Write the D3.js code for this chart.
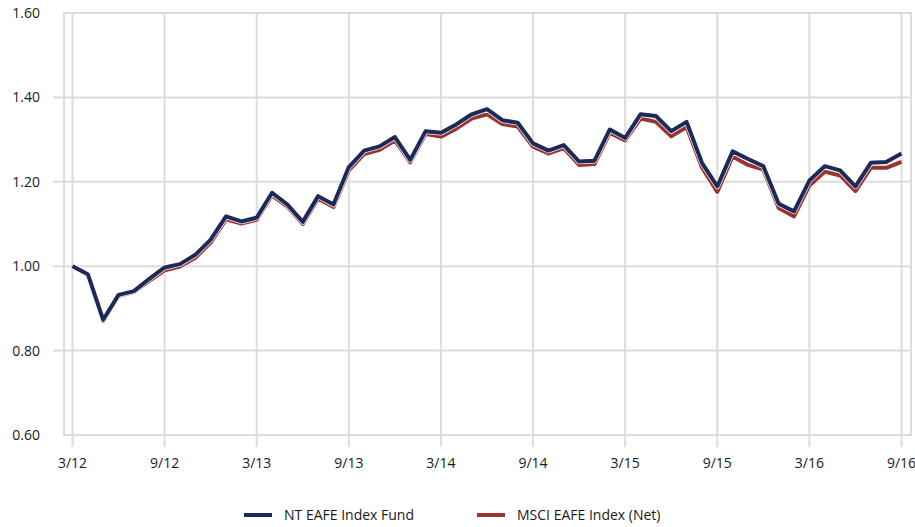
<!DOCTYPE html>
<html><head><meta charset="utf-8">
<script src="https://cdn.jsdelivr.net/npm/d3@7"></script>
<style>body{margin:0;background:#fff;}svg{display:block;font-family:"Open Sans","Noto Sans",sans-serif;}</style>
</head><body>
<svg id="c" width="915" height="527"></svg>
<script>
const tickLabels = ["3/12","9/12","3/13","9/13","3/14","9/14","3/15","9/15","3/16","9/16"];
const yTicks = [0.60,0.80,1.00,1.20,1.40,1.60];
const seriesNames = ["NT EAFE Index Fund","MSCI EAFE Index (Net)"];
const fund = [1.000,0.981,0.873,0.932,0.941,0.970,0.997,1.005,1.027,1.063,1.118,1.106,1.115,1.174,1.146,1.105,1.166,1.146,1.235,1.274,1.284,1.306,1.252,1.320,1.316,1.336,1.360,1.372,1.346,1.340,1.291,1.274,1.287,1.248,1.250,1.324,1.304,1.360,1.356,1.320,1.342,1.245,1.189,1.272,1.254,1.237,1.148,1.130,1.203,1.237,1.227,1.189,1.245,1.247,1.267];
const msci = [1.000,0.979,0.870,0.930,0.939,0.965,0.990,0.999,1.020,1.056,1.111,1.101,1.110,1.168,1.141,1.100,1.160,1.140,1.227,1.266,1.276,1.298,1.246,1.313,1.307,1.326,1.350,1.360,1.337,1.331,1.283,1.267,1.280,1.240,1.242,1.316,1.298,1.350,1.342,1.308,1.330,1.234,1.176,1.260,1.240,1.229,1.138,1.118,1.191,1.224,1.215,1.178,1.233,1.233,1.247];

const svg = d3.select("#c");
const x = d3.scaleLinear().domain([0, fund.length-1]).range([72.5, 901.5]);
const y = d3.scaleLinear().domain([0.6,1.6]).range([435, 13]);
const grid = "#dcdcdc";

const inner = yTicks.filter(v => v>0.61 && v<1.59);
svg.append("g").selectAll("line").data(inner).join("line")
  .attr("x1",53).attr("x2",911).attr("y1",d=>y(d)).attr("y2",d=>y(d))
  .attr("stroke",grid).attr("stroke-width",2);

const xTickIdx = tickLabels.map((_,i)=>i*6);
svg.append("g").selectAll("line").data(xTickIdx).join("line")
  .attr("x1",d=>x(d)).attr("x2",d=>x(d)).attr("y1",y(1.6)).attr("y2",447)
  .attr("stroke",grid).attr("stroke-width",2);

svg.append("rect").attr("x",64).attr("y",y(1.6)).attr("width",911-64).attr("height",y(0.6)-y(1.6))
  .attr("fill","none").attr("stroke",grid).attr("stroke-width",2);

svg.append("g").selectAll("text").data(yTicks).join("text")
  .attr("x",40).attr("y",d=>y(d)).attr("dy","0.35em").attr("text-anchor","end")
  .attr("font-size",14).attr("fill","#1a1a1a").text(d=>d.toFixed(2));

svg.append("g").selectAll("text").data(xTickIdx).join("text")
  .attr("x",d=>x(d)).attr("y",468).attr("text-anchor","middle")
  .attr("font-size",14).attr("fill","#1a1a1a").text((d,i)=>tickLabels[i]);

const line = d3.line().x((d,i)=>x(i)).y(d=>y(d));
const series = [{vals:msci,color:"#9b3330"},{vals:fund,color:"#1c2a5a"}];
series.forEach(s=>{
  svg.append("path").attr("d",line(s.vals)).attr("fill","none").attr("stroke","#fff")
    .attr("stroke-width",5.5).attr("stroke-linejoin","round").attr("opacity",0.9);
  svg.append("path").attr("d",line(s.vals)).attr("fill","none").attr("stroke",s.color)
    .attr("stroke-width",4).attr("stroke-linejoin","round");
});

const legend = [{name:seriesNames[0],color:"#1c2a5a",x:244},{name:seriesNames[1],color:"#9b3330",x:477}];
const lg = svg.append("g").selectAll("g").data(legend).join("g");
lg.append("line").attr("x1",d=>d.x).attr("x2",d=>d.x+28).attr("y1",515).attr("y2",515)
  .attr("stroke",d=>d.color).attr("stroke-width",4);
lg.append("text").attr("x",d=>d.x+40).attr("y",515).attr("dy","0.35em")
  .attr("font-size",14).attr("fill","#1a1a1a").text(d=>d.name);
</script>
</body></html>
